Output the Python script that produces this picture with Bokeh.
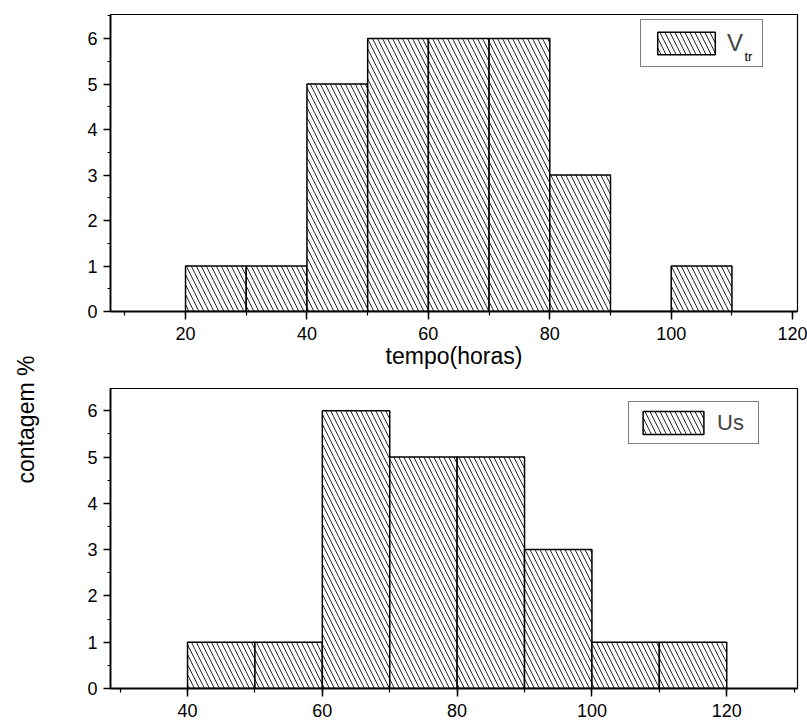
import math
from bokeh.plotting import figure
from bokeh.layouts import row, column
from bokeh.models import Range1d, SingleIntervalTicker, Legend, LegendItem, Label
from bokeh.embed import file_html
from bokeh.resources import INLINE

# ---- data ----
vtr_left = [20, 30, 40, 50, 60, 70, 80, 90, 100]
vtr_right = [30, 40, 50, 60, 70, 80, 90, 100, 110]
vtr_count = [1, 1, 5, 6, 6, 6, 3, 0, 1]

us_left = [40, 50, 60, 70, 80, 90, 100, 110]
us_right = [50, 60, 70, 80, 90, 100, 110, 120]
us_count = [1, 1, 6, 5, 5, 3, 1, 1]

FONT = "Liberation Sans"
TICK_SIZE = "18px"


def style(p, x_interval):
    p.xaxis.ticker = SingleIntervalTicker(interval=x_interval, num_minor_ticks=2)
    p.yaxis.ticker = SingleIntervalTicker(interval=1, num_minor_ticks=2)
    p.xgrid.visible = False
    p.ygrid.visible = False
    p.outline_line_color = "black"
    p.outline_line_width = 1.2
    for ax in (p.xaxis, p.yaxis):
        ax.axis_line_width = 1.8
        ax.axis_line_color = "black"
        ax.major_tick_line_width = 1.5
        ax.major_tick_line_color = "black"
        ax.minor_tick_line_color = "black"
        ax.minor_tick_line_width = 1.2
        ax.major_tick_in = 0
        ax.minor_tick_in = 0
        ax.major_label_text_font = FONT
        ax.major_label_text_font_size = TICK_SIZE
        ax.major_label_text_color = "black"
    p.xaxis.major_tick_out = 8
    p.xaxis.minor_tick_out = 4
    p.yaxis.major_tick_out = 7
    p.yaxis.minor_tick_out = 3
    p.xaxis.major_label_standoff = 7
    p.yaxis.major_label_standoff = 6


def bars(p, left, right, count):
    return p.quad(left=left, right=right, bottom=0, top=count,
                  fill_color="white", line_color="black", line_width=1.5,
                  hatch_pattern="\\", hatch_color="black", hatch_alpha=0.85,
                  hatch_scale=10, hatch_weight=1)


# ---- top figure ----
p1 = figure(width=762, height=376, output_backend="svg", toolbar_location=None,
            x_range=Range1d(7.64, 120.8), y_range=Range1d(0, 6.53),
            min_border_left=65, min_border_right=10, min_border_top=14,
            min_border_bottom=65)
style(p1, 20)
r1 = bars(p1, vtr_left, vtr_right, vtr_count)
p1.xaxis.axis_label = "tempo(horas)"
p1.xaxis.axis_label_text_font = FONT
p1.xaxis.axis_label_text_font_size = "23px"
p1.xaxis.axis_label_text_font_style = "normal"
p1.xaxis.axis_label_standoff = 0
p1.xaxis.axis_label_text_color = "black"

leg1 = Legend(items=[LegendItem(label="V", renderers=[r1])], location=(530, 244),
              margin=0, padding=9, glyph_width=72, glyph_height=28,
              label_standoff=5, label_width=26, label_height=28,
              label_text_font=FONT, label_text_font_size="24px",
              border_line_color="black", border_line_width=1.5,
              background_fill_color=None)
p1.add_layout(leg1)
p1.add_layout(Label(x=634, y=248, x_units="screen", y_units="screen", text="tr",
                    text_font=FONT, text_font_size="13px", text_baseline="bottom",
                    text_align="left", text_color="black", level="overlay"))

# ---- bottom figure ----
p2 = figure(width=762, height=348, output_backend="svg", toolbar_location=None,
            x_range=Range1d(28.57, 130.5), y_range=Range1d(0, 6.48),
            min_border_left=65, min_border_right=10, min_border_top=12,
            min_border_bottom=36)
style(p2, 20)
r2 = bars(p2, us_left, us_right, us_count)
leg2 = Legend(items=[LegendItem(label="Us", renderers=[r2])], location=(518, 244),
              margin=0, padding=6, glyph_width=76, glyph_height=29,
              label_standoff=6, label_width=35, label_height=29,
              label_text_font=FONT, label_text_font_size="22px",
              border_line_color="black", border_line_width=1.5,
              background_fill_color=None)
p2.add_layout(leg2)

# ---- shared y title ----
pl = figure(width=45, height=724, output_backend="svg", toolbar_location=None,
            x_range=Range1d(0, 1), y_range=Range1d(0, 1),
            min_border=0, x_axis_location=None, y_axis_location=None)
pl.outline_line_color = None
pl.xgrid.visible = False
pl.ygrid.visible = False
pl.add_layout(Label(x=25, y=305, x_units="screen", y_units="screen",
                    text="contagem %", angle=math.pi / 2, text_font=FONT,
                    text_font_size="23px", text_align="center",
                    text_baseline="middle", text_color="black"))

layout = row(pl, column(p1, p2, spacing=0), spacing=0)
open("out.html", "w").write(file_html(layout, INLINE))
